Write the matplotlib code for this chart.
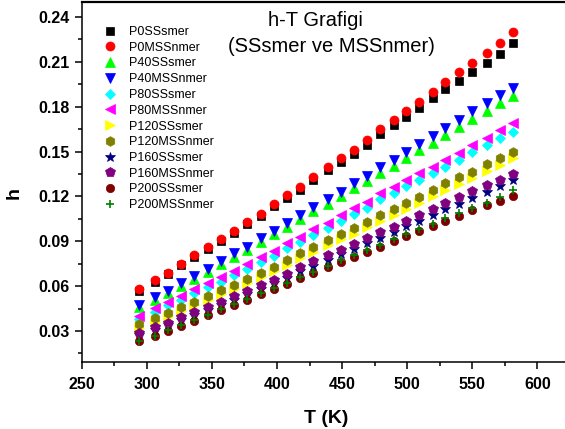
import matplotlib.pyplot as plt
from matplotlib.ticker import MultipleLocator, FormatStrFormatter

plt.rcParams['font.family'] = ['Liberation Sans', 'DejaVu Sans']

# Sicaklik (K)
T = [294, 306, 316, 326, 336, 347, 357, 367, 377, 388, 398, 408, 418, 428, 439,
     449, 459, 469, 479, 490, 499, 509, 520, 529, 540, 550, 561, 571, 581]

h_P0SS = [0.0570, 0.0630, 0.0680, 0.0740, 0.0795, 0.0850, 0.0900, 0.0955, 0.1015, 0.1070,
          0.1135, 0.1190, 0.1240, 0.1310, 0.1380, 0.1430, 0.1485, 0.1545, 0.1620, 0.1675,
          0.1730, 0.1790, 0.1855, 0.1915, 0.1970, 0.2030, 0.2095, 0.2155, 0.2225]
h_P0MSS = [0.0580, 0.0640, 0.0690, 0.0750, 0.0810, 0.0860, 0.0915, 0.0970, 0.1030, 0.1085,
           0.1150, 0.1208, 0.1264, 0.1331, 0.1398, 0.1456, 0.1509, 0.1576, 0.1648, 0.1710,
           0.1770, 0.1832, 0.1897, 0.1966, 0.2033, 0.2095, 0.2162, 0.2229, 0.2300]
h_P40SS = [0.0458, 0.0508, 0.0552, 0.0601, 0.0650, 0.0695, 0.0748, 0.0798, 0.0841, 0.0896,
           0.0946, 0.0995, 0.1049, 0.1100, 0.1151, 0.1201, 0.1255, 0.1305, 0.1359, 0.1406,
           0.1459, 0.1508, 0.1560, 0.1613, 0.1667, 0.1721, 0.1773, 0.1823, 0.1872]
h_P40MSS = [0.0474, 0.0525, 0.0569, 0.0619, 0.0668, 0.0714, 0.0768, 0.0819, 0.0863, 0.0919,
            0.0970, 0.1020, 0.1075, 0.1127, 0.1180, 0.1231, 0.1287, 0.1338, 0.1394, 0.1443,
            0.1498, 0.1549, 0.1603, 0.1658, 0.1714, 0.1770, 0.1825, 0.1877, 0.1928]
h_P80SS = [0.0380, 0.0429, 0.0472, 0.0509, 0.0553, 0.0596, 0.0631, 0.0674, 0.0718, 0.0761,
           0.0805, 0.0857, 0.0896, 0.0945, 0.0988, 0.1038, 0.1082, 0.1125, 0.1180, 0.1224,
           0.1267, 0.1311, 0.1354, 0.1399, 0.1444, 0.1494, 0.1544, 0.1589, 0.1632]
h_P80MSS = [0.0402, 0.0452, 0.0496, 0.0534, 0.0579, 0.0623, 0.0659, 0.0703, 0.0748, 0.0792,
            0.0837, 0.0890, 0.0930, 0.0980, 0.1024, 0.1075, 0.1120, 0.1164, 0.1220, 0.1265,
            0.1309, 0.1354, 0.1398, 0.1445, 0.1491, 0.1543, 0.1594, 0.1641, 0.1688]
h_P120SS = [0.0322, 0.0362, 0.0396, 0.0434, 0.0471, 0.0509, 0.0546, 0.0582, 0.0621, 0.0660,
            0.0699, 0.0741, 0.0787, 0.0830, 0.0874, 0.0913, 0.0952, 0.0993, 0.1035, 0.1074,
            0.1113, 0.1156, 0.1200, 0.1244, 0.1283, 0.1321, 0.1368, 0.1410, 0.1455]
h_P120MSS = [0.0345, 0.0385, 0.0420, 0.0458, 0.0496, 0.0534, 0.0572, 0.0609, 0.0649, 0.0689,
             0.0729, 0.0772, 0.0819, 0.0863, 0.0908, 0.0948, 0.0988, 0.1030, 0.1073, 0.1113,
             0.1153, 0.1197, 0.1242, 0.1287, 0.1327, 0.1366, 0.1414, 0.1456, 0.1498]
h_P160SS = [0.0274, 0.0308, 0.0340, 0.0373, 0.0408, 0.0442, 0.0476, 0.0510, 0.0546, 0.0581,
            0.0618, 0.0657, 0.0699, 0.0738, 0.0777, 0.0813, 0.0851, 0.0886, 0.0925, 0.0962,
            0.0999, 0.1037, 0.1074, 0.1113, 0.1152, 0.1191, 0.1231, 0.1270, 0.1313]
h_P160MSS = [0.0289, 0.0324, 0.0357, 0.0391, 0.0427, 0.0462, 0.0497, 0.0532, 0.0569, 0.0605,
             0.0643, 0.0683, 0.0726, 0.0766, 0.0806, 0.0843, 0.0883, 0.0919, 0.0959, 0.0997,
             0.1035, 0.1075, 0.1113, 0.1153, 0.1193, 0.1233, 0.1274, 0.1311, 0.1353]
h_P200SS = [0.0233, 0.0267, 0.0302, 0.0335, 0.0369, 0.0405, 0.0440, 0.0474, 0.0507, 0.0545,
            0.0580, 0.0617, 0.0652, 0.0689, 0.0728, 0.0763, 0.0797, 0.0830, 0.0865, 0.0901,
            0.0935, 0.0968, 0.1002, 0.1037, 0.1070, 0.1106, 0.1140, 0.1172, 0.1205]
h_P200MSS = [0.0236, 0.0270, 0.0305, 0.0339, 0.0373, 0.0409, 0.0445, 0.0479, 0.0513, 0.0551,
             0.0586, 0.0624, 0.0659, 0.0697, 0.0736, 0.0772, 0.0806, 0.0840, 0.0876, 0.0913,
             0.0948, 0.0982, 0.1017, 0.1053, 0.1087, 0.1124, 0.1159, 0.1193, 0.1240]

series = [
    ('P0SSsmer', h_P0SS, 's', 'black', 5.5),
    ('P0MSSnmer', h_P0MSS, 'o', 'red', 6.5),
    ('P40SSsmer', h_P40SS, '^', '#00ff00', 7),
    ('P40MSSnmer', h_P40MSS, 'v', 'blue', 7),
    ('P80SSsmer', h_P80SS, 'D', 'cyan', 5.5),
    ('P80MSSnmer', h_P80MSS, '<', 'magenta', 7),
    ('P120SSsmer', h_P120SS, '>', 'yellow', 7),
    ('P120MSSnmer', h_P120MSS, 'h', '#808000', 7),
    ('P160SSsmer', h_P160SS, '*', '#000080', 7),
    ('P160MSSnmer', h_P160MSS, 'p', '#800080', 7),
    ('P200SSsmer', h_P200SS, 'o', '#800000', 6),
    ('P200MSSnmer', h_P200MSS, '+', '#008000', 6),
]

fig = plt.figure(figsize=(5.65, 4.29), dpi=100)
ax = fig.add_axes([81.7 / 565, 67 / 429, 488.3 / 565, 360 / 429])

for name, h, m, c, ms in series:
    ax.plot(T, h, linestyle='none', marker=m, color=c, markersize=ms,
            markeredgewidth=1.2 if m == '+' else 0.5, label=name)

ax.set_xlim(250, 625)
ax.set_ylim(0.0093, 0.25)
ax.xaxis.set_major_locator(MultipleLocator(50))
ax.xaxis.set_minor_locator(MultipleLocator(25))
ax.yaxis.set_major_locator(MultipleLocator(0.03))
ax.yaxis.set_minor_locator(MultipleLocator(0.015))
ax.yaxis.set_major_formatter(FormatStrFormatter('%.2f'))

ax.tick_params(which='major', direction='out', length=5, width=1.1, labelsize=11.5)
ax.tick_params(axis='x', which='major', pad=6)
ax.tick_params(which='minor', direction='out', length=3, width=1.1)
for lab in ax.get_xticklabels() + ax.get_yticklabels():
    lab.set_fontweight('bold')
for sp in ax.spines.values():
    sp.set_linewidth(1.1)
ax.spines['top'].set_linewidth(1.6)

ax.set_xlabel('T (K)', fontsize=14, fontweight='bold', labelpad=13)
ax.set_ylabel('h', fontsize=14, fontweight='bold')
ax.yaxis.set_label_coords(-0.122, 0.47)

fig.text(315 / 565, 1 - 21 / 429, 'h-T Grafigi', fontsize=14.5, ha='center', va='center')
fig.text(331 / 565, 1 - 47 / 429, '(SSsmer ve MSSnmer)', fontsize=14.5, ha='center', va='center')

ax.legend(loc='upper left', bbox_to_anchor=(103.7 / 565, 1 - 26 / 429),
          bbox_transform=fig.transFigure, frameon=False, fontsize=9,
          numpoints=1, handlelength=1.0, handletextpad=1.0, borderpad=0,
          borderaxespad=0, labelspacing=0.30)

fig.savefig('out.png', dpi=100)
